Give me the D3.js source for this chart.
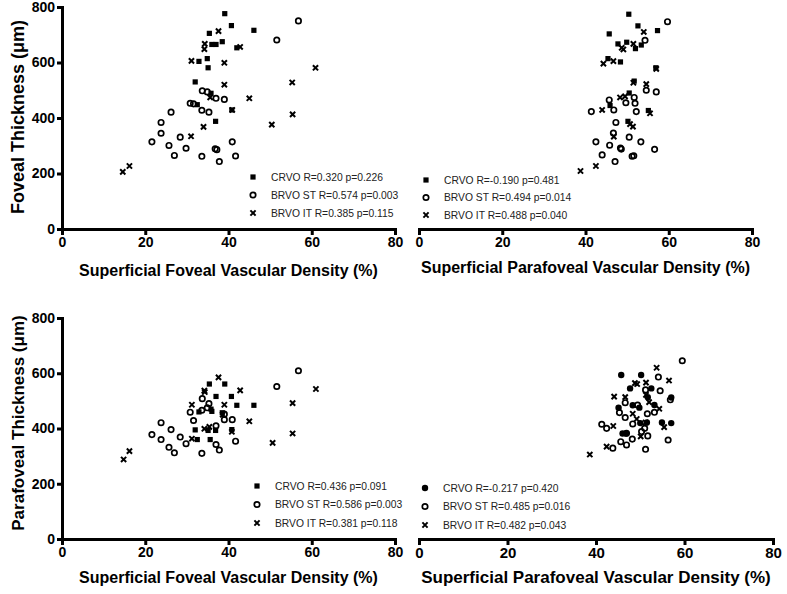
<!DOCTYPE html>
<html>
<head>
<meta charset="utf-8">
<script src="https://cdn.jsdelivr.net/npm/d3@7/dist/d3.min.js"></script>
<style>
body { margin: 0; background: #fff; }
text { font-family: "Liberation Sans", Arial, sans-serif; }
</style>
</head>
<body>
<svg width="787" height="594"></svg>
<script>
// ---- data: [vascular density %, thickness um] ----
// top left: foveal density vs foveal thickness
var tlCrvo = [[39.1,776],[40.7,733],[46.1,716],[35.4,705],[38.5,675],[36.0,665],[37.0,665],[32.9,604],[34.9,614],[35.1,581],[32.0,530],[35.8,489],[32.5,448],[40.8,429],[36.9,388],[42.0,653]];
var tlSt = [[56.8,750],[51.6,681],[33.7,498],[34.9,494],[37.0,471],[39.0,467],[30.8,453],[31.6,451],[33.6,428],[35.3,421],[26.2,421],[23.8,384],[23.8,345],[21.6,314],[25.7,301],[28.4,331],[29.8,291],[27.0,265],[33.6,262],[36.8,289],[37.2,286],[40.9,314],[41.7,263],[37.8,243]];
var tlIt = [[37.6,713],[34.3,667],[34.2,648],[42.8,656],[31.1,606],[39.0,599],[39.0,520],[35.6,474],[45.0,471],[40.9,429],[34.0,368],[31.0,334],[60.9,581],[55.3,528],[55.4,413],[50.4,376],[14.6,206],[16.2,227]];

// top right: parafoveal density vs foveal thickness
var trCrvo = [[50.4,774],[52.6,732],[57.3,715],[45.7,703],[47.8,667],[49.9,673],[52.0,650],[53.4,663],[45.4,614],[48.4,602],[56.9,581],[51.7,533],[50.5,490],[45.9,445],[55.1,427],[50.2,388]];
var trSt = [[59.7,747],[54.3,680],[45.7,465],[49.7,455],[51.7,474],[51.9,453],[54.6,500],[57.0,494],[41.4,423],[46.8,429],[52.2,423],[47.3,384],[46.7,346],[50.5,331],[42.5,314],[45.8,302],[48.4,292],[48.6,288],[53.3,314],[56.6,287],[44.0,267],[51.2,262],[51.6,264],[47.1,243]];
var trIt = [[54.0,710],[48.7,653],[49.1,647],[51.5,667],[44.3,596],[46.7,605],[57.0,577],[51.5,527],[54.6,522],[48.3,474],[49.5,478],[44.0,429],[55.5,417],[51.4,369],[50.7,378],[46.8,333],[42.5,227],[38.8,209]];

// bottom left: foveal density vs parafoveal thickness
var blCrvo = [[35.4,561],[39.1,561],[40.7,516],[46.1,484],[42.0,484],[37.0,516],[32.9,460],[36.0,462],[38.5,457],[32.0,395],[35.1,393],[36.9,393],[32.5,360],[35.6,360],[40.8,396],[35.8,470]];
var blSt = [[56.8,609],[51.6,552],[33.7,508],[34.9,475],[33.6,466],[30.8,459],[31.6,429],[39.0,432],[40.9,432],[23.8,421],[26.2,396],[21.6,378],[23.8,360],[28.4,369],[25.7,332],[29.8,345],[37.0,342],[41.7,354],[27.0,312],[33.6,310],[37.8,322],[37.0,410],[35.3,490],[39.0,452]];
var blIt = [[37.6,585],[34.2,537],[34.3,532],[42.8,538],[31.2,486],[39.0,486],[61.0,543],[55.4,492],[55.4,382],[50.6,348],[45.0,426],[35.4,406],[34.2,399],[40.8,388],[31.2,363],[14.8,288],[16.2,318],[38.6,450]];

// bottom right: parafoveal density vs parafoveal thickness
var brCrvo = [[45.7,563],[50.2,563],[47.7,517],[52.5,517],[51.7,487],[45.1,451],[48.3,459],[49.8,451],[53.2,460],[57.0,486],[51.5,400],[50.0,398],[54.9,400],[57.0,398],[46.0,362],[46.8,362]];
var brSt = [[59.5,612],[54.1,556],[51.2,512],[54.5,509],[46.6,468],[49.4,460],[45.3,434],[46.6,417],[51.6,430],[53.2,435],[56.8,478],[41.3,394],[42.4,380],[48.3,395],[50.3,369],[51.7,354],[46.9,363],[48.2,343],[45.6,334],[46.9,323],[43.8,312],[51.2,308],[56.3,340],[51.0,380]];
var brIt = [[53.7,588],[48.8,535],[49.3,532],[51.3,537],[56.5,544],[44.1,489],[46.6,487],[51.3,495],[54.3,447],[48.3,430],[49.2,412],[43.9,388],[51.2,400],[55.4,384],[50.1,352],[42.4,317],[38.6,290],[52.0,470]];

var xTicks = [0, 20, 40, 60, 80];
var yTicks = [0, 200, 400, 600, 800];

var tlLegend = ["CRVO R=0.320 p=0.226", "BRVO ST R=0.574 p=0.003", "BRVO IT R=0.385 p=0.115"];
var trLegend = ["CRVO R=-0.190 p=0.481", "BRVO ST R=0.494 p=0.014", "BRVO IT R=0.488 p=0.040"];
var blLegend = ["CRVO R=0.436 p=0.091", "BRVO ST R=0.586 p=0.003", "BRVO IT R=0.381 p=0.118"];
var brLegend = ["CRVO R=-0.217 p=0.420", "BRVO ST R=0.485 p=0.016", "BRVO IT R=0.482 p=0.043"];

var svg = d3.select("svg");

// panel layout (pixel ranges of each plot)
var panels = [
  {xr: [62, 395], yr: [229, 7], series: [tlCrvo, tlSt, tlIt], crvo: "square", legend: tlLegend, lx: 253, ly: 177, dy: 18,
   yAxis: true, yTitle: "Foveal Thickness (\u03bcm)", yTitleY: 117, yTitleSize: 18,
   xTitle: "Superficial Foveal Vascular Density (%)", xTitleY: 276, xTitleSize: 16, tickSize: 14},
  {xr: [419, 752], yr: [229, 7], series: [trCrvo, trSt, trIt], crvo: "square", legend: trLegend, lx: 426, ly: 180, dy: 17.5,
   yAxis: false, xTitle: "Superficial Parafoveal Vascular Density (%)", xTitleY: 273, xTitleSize: 16, tickSize: 14},
  {xr: [62, 395], yr: [539, 318], series: [blCrvo, blSt, blIt], crvo: "square", legend: blLegend, lx: 257, ly: 486, dy: 18.5,
   yAxis: true, yTitle: "Parafoveal Thickness (\u03bcm)", yTitleY: 423, yTitleSize: 17,
   xTitle: "Superficial Foveal Vascular Density (%)", xTitleY: 583, xTitleSize: 16, tickSize: 14},
  {xr: [419, 773], yr: [539, 306], series: [brCrvo, brSt, brIt], crvo: "dot", legend: brLegend, lx: 425, ly: 488, dy: 18.5,
   yAxis: false, xTitle: "Superficial Parafoveal Vascular Density (%)", xTitleY: 583, xTitleSize: 17, tickSize: 15}
];

function drawMarker(g, shape, x, y) {
  if (shape === "square") {
    g.append("rect").attr("x", x - 2.6).attr("y", y - 2.6).attr("width", 5.2).attr("height", 5.2).attr("fill", "#000");
  } else if (shape === "dot") {
    g.append("circle").attr("cx", x).attr("cy", y).attr("r", 3.2).attr("fill", "#000");
  } else if (shape === "circle") {
    g.append("circle").attr("cx", x).attr("cy", y).attr("r", 2.7).attr("fill", "none").attr("stroke", "#000").attr("stroke-width", 1.7);
  } else {
    var s = 2.6;
    g.append("path").attr("d", "M" + (x - s) + "," + (y - s) + "L" + (x + s) + "," + (y + s) + "M" + (x - s) + "," + (y + s) + "L" + (x + s) + "," + (y - s))
      .attr("stroke", "#000").attr("stroke-width", 2).attr("fill", "none");
  }
}

panels.forEach(function (p) {
  var x = d3.scaleLinear().domain([0, 80]).range(p.xr);
  var y = d3.scaleLinear().domain([0, 800]).range(p.yr);
  var g = svg.append("g");
  var shapes = [p.crvo, "circle", "cross"];

  // x axis
  var xa = g.append("g").attr("transform", "translate(0," + p.yr[0] + ")")
    .call(d3.axisBottom(x).tickValues(xTicks).tickSize(6).tickSizeOuter(0).tickPadding(2));
  xa.select(".domain").attr("stroke-width", 3).attr("stroke-linecap", "square");
  xa.selectAll(".tick line").attr("stroke-width", 3);
  xa.selectAll(".tick text").attr("font-size", p.tickSize).attr("font-weight", "bold").attr("fill", "#000")
    .style("font-family", "'Liberation Sans', Arial, sans-serif");

  if (p.yAxis) {
    var ya = g.append("g").attr("transform", "translate(" + p.xr[0] + ",0)")
      .call(d3.axisLeft(y).tickValues(yTicks).tickSize(5).tickSizeOuter(0).tickPadding(2));
    ya.select(".domain").attr("stroke-width", 3).attr("stroke-linecap", "square");
    ya.selectAll(".tick line").attr("stroke-width", 3);
    ya.selectAll(".tick text").attr("font-size", 14).attr("font-weight", "bold").attr("fill", "#000")
      .style("font-family", "'Liberation Sans', Arial, sans-serif");
    g.append("text")
      .attr("transform", "translate(24," + p.yTitleY + ") rotate(-90)")
      .attr("text-anchor", "middle").attr("font-size", p.yTitleSize).attr("font-weight", "bold")
      .text(p.yTitle);
  }

  g.append("text").attr("x", (p.xr[0] + p.xr[1]) / 2).attr("y", p.xTitleY)
    .attr("text-anchor", "middle").attr("font-size", p.xTitleSize).attr("font-weight", "bold")
    .text(p.xTitle);

  // points
  p.series.forEach(function (data, i) {
    var sg = g.append("g");
    data.forEach(function (d) { drawMarker(sg, shapes[i], x(d[0]), y(d[1])); });
  });

  // legend
  p.legend.forEach(function (t, i) {
    var ry = p.ly + i * p.dy;
    drawMarker(g, shapes[i], p.lx, ry);
    g.append("text").attr("x", p.lx + 18).attr("y", ry + 3.6)
      .attr("font-size", 10.3).attr("fill", "#222").text(t);
  });
});
</script>
</body>
</html>
